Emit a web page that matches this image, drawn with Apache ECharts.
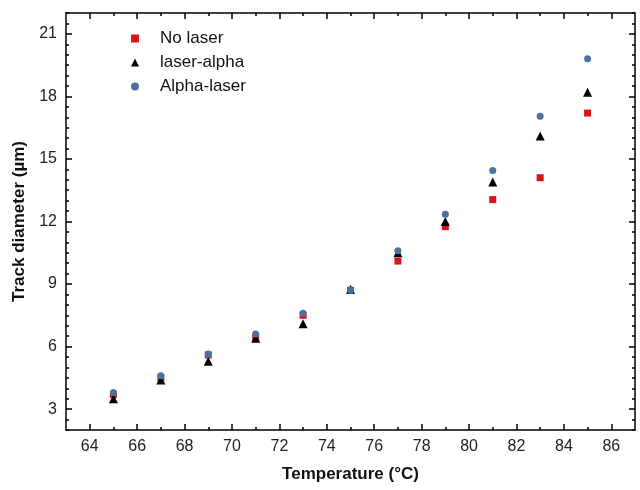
<!DOCTYPE html>
<html>
<head>
<meta charset="utf-8">
<script src="https://cdn.jsdelivr.net/npm/echarts@6/dist/echarts.min.js"></script>
<style>
  html, body { margin: 0; padding: 0; background: #fff; }
  #chart { width: 640px; height: 490px; }
</style>
</head>
<body>
<div id="chart"></div>
<script>
const temps = [65, 67, 69, 71, 73, 75, 77, 79, 81, 83, 85]
const noLaser = [3.7, 4.5, 5.6, 6.45, 7.5, 8.7, 10.1, 11.75, 13.05, 14.1, 17.2]
const laserAlpha = [3.5, 4.4, 5.3, 6.4, 7.1, 8.75, 10.5, 12.0, 13.9, 16.1, 18.2]
const alphaLaser = [3.8, 4.6, 5.65, 6.6, 7.6, 8.7, 10.6, 12.35, 14.45, 17.05, 19.8]

const xTicks = [64, 66, 68, 70, 72, 74, 76, 78, 80, 82, 84, 86]
const yTicks = [3, 6, 9, 12, 15, 18, 21]

const xMin = 63, xMax = 87, yMin = 2, yMax = 22
const xMinor = xTicks.map(v => v + 1).filter(v => v < xMax)
const yMinor = []
for (let v = yMin; v <= yMax; v += 0.5) if (v % 3 !== 0) yMinor.push(v)

const pair = arr => temps.map((t, i) => [t, arr[i]])
const lineStyle = { color: '#000', width: 1.5 }
const font = 'Arial, Liberation Sans'

const makeAxis = (min, max, position, ticks, len, withLabel, showLine) => ({
  type: 'value', min, max, position,
  axisLine: { show: showLine, onZero: false, lineStyle },
  axisTick: { show: true, inside: true, length: len, customValues: ticks, lineStyle: { color: '#000', width: 1.5 } },
  axisLabel: withLabel
    ? { show: true, customValues: ticks, margin: 9, fontSize: 16, color: '#222', fontFamily: font }
    : { show: false },
  splitLine: { show: false }
})

const xMain = makeAxis(xMin, xMax, 'bottom', xTicks, 6, true, true)
xMain.name = 'Temperature (°C)'
xMain.nameLocation = 'middle'
xMain.nameGap = 36
xMain.nameTextStyle = { fontSize: 17, fontWeight: 'bold', color: '#111', fontFamily: font }

const yMain = makeAxis(yMin, yMax, 'left', yTicks, 6, true, true)
yMain.name = 'Track diameter (µm)'
yMain.nameLocation = 'middle'
yMain.nameGap = 38
yMain.nameTextStyle = { fontSize: 17, fontWeight: 'bold', color: '#111', fontFamily: font }

const chart = echarts.init(document.getElementById('chart'))
chart.setOption({
  animation: false,
  backgroundColor: '#fff',
  grid: { left: 66, right: 5, top: 13, bottom: 60 },
  legend: {
    orient: 'vertical', left: 126, top: 25, itemGap: 7,
    itemWidth: 8, itemHeight: 8,
    textStyle: { fontSize: 17, color: '#111', fontFamily: font, padding: [0, 0, 0, 16] },
    data: ['No laser', 'laser-alpha', 'Alpha-laser']
  },
  xAxis: [
    xMain,
    makeAxis(xMin, xMax, 'bottom', xMinor, 3, false, false),
    makeAxis(xMin, xMax, 'top', xTicks, 6, false, true),
    makeAxis(xMin, xMax, 'top', xMinor, 3, false, false)
  ],
  yAxis: [
    yMain,
    makeAxis(yMin, yMax, 'left', yMinor, 3, false, false),
    makeAxis(yMin, yMax, 'right', yTicks, 6, false, true),
    makeAxis(yMin, yMax, 'right', yMinor, 3, false, false)
  ],
  series: [
    { name: 'No laser', type: 'scatter', symbol: 'rect', symbolSize: 7, itemStyle: { color: '#d9141e', opacity: 1 }, data: pair(noLaser) },
    { name: 'laser-alpha', type: 'scatter', symbol: 'triangle', symbolSize: 9, itemStyle: { color: '#000', opacity: 1 }, data: pair(laserAlpha) },
    { name: 'Alpha-laser', type: 'scatter', symbol: 'circle', symbolSize: 7, itemStyle: { color: '#4a72a0', opacity: 1 }, data: pair(alphaLaser) }
  ]
})
</script>
</body>
</html>
